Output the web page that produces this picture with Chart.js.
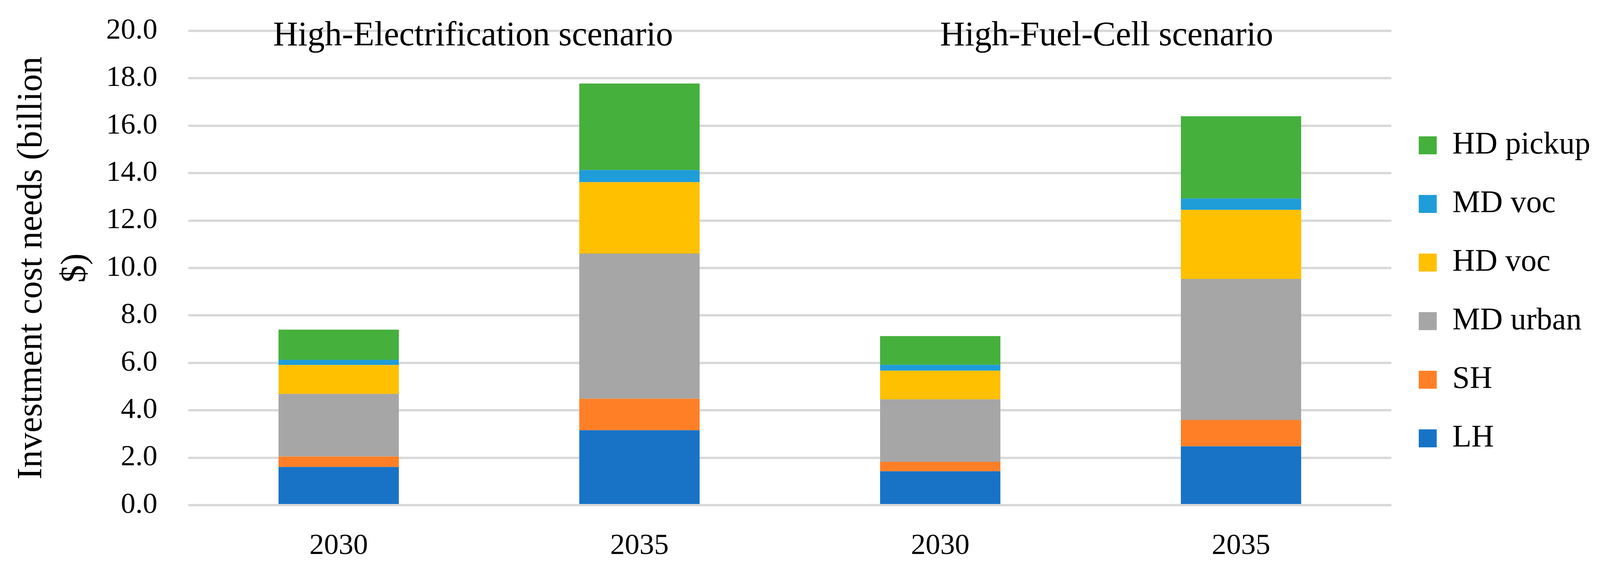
<!DOCTYPE html>
<html>
<head>
<meta charset="utf-8">
<script src="https://cdn.jsdelivr.net/npm/chart.js"></script>
<style>
  html, body { margin: 0; padding: 0; background: #fff; overflow: hidden; }
</style>
</head>
<body>
<canvas id="graph-canvas" width="4102" height="1459"></canvas>
<script>
// categories (two scenarios, two years each)
const years = ['2030', '2035', '2030', '2035'];
const scenarios = ['High-Electrification scenario', 'High-Fuel-Cell scenario'];

// stacked segments, bottom to top (billion $)
const lh = [1.61, 3.16, 1.43, 2.48];
const sh = [0.44, 1.33, 0.40, 1.11];
const mdUrban = [2.64, 6.12, 2.63, 5.95];
const hdVoc = [1.22, 3.01, 1.21, 2.91];
const mdVoc = [0.22, 0.51, 0.25, 0.48];
const hdPickup = [1.27, 3.65, 1.21, 3.47];

const yTicks = [0, 2, 4, 6, 8, 10, 12, 14, 16, 18, 20];

const FONT = '"Liberation Serif", "Times New Roman", serif';
Chart.defaults.font.family = FONT;
Chart.defaults.color = '#000';

function series(label, data, color) {
  return {
    label: label,
    data: data,
    backgroundColor: color,
    borderWidth: 0,
    barPercentage: 0.4,
    categoryPercentage: 1.0
  };
}

// scenario headings over the plot, centred at a share of the plot width
const scenarioTitles = {
  id: 'scenarioTitles',
  afterDraw(chart) {
    const {ctx, chartArea} = chart;
    const spots = [0.2367, 0.7633];
    ctx.save();
    ctx.font = '88px ' + FONT;
    ctx.fillStyle = '#000';
    ctx.textAlign = 'center';
    ctx.textBaseline = 'alphabetic';
    scenarios.forEach((t, i) => {
      const x = chartArea.left + spots[i] * (chartArea.right - chartArea.left);
      ctx.fillText(t, x, chartArea.top + 37);
    });
    ctx.restore();
  }
};

// fixed legend column width, and the legend block nudged up a little
const legendBox = {
  id: 'legendBox',
  afterInit(chart) {
    const lg = chart.legend;
    const fit = lg.fit;
    lg.fit = function () {
      fit.call(this);
      this.width = 540;
    };
  },
  afterLayout(chart) {
    chart.legend.top -= 44;
  }
};

new Chart(document.getElementById('graph-canvas'), {
  type: 'bar',
  data: {
    labels: years,
    datasets: [
      series('LH', lh, '#1873c7'),
      series('SH', sh, '#ff7f27'),
      series('MD urban', mdUrban, '#a6a6a6'),
      series('HD voc', hdVoc, '#ffc000'),
      series('MD voc', mdVoc, '#1f9dd9'),
      series('HD pickup', hdPickup, '#45b03c')
    ]
  },
  options: {
    responsive: false,
    devicePixelRatio: 1,
    animation: false,
    layout: { padding: { top: 79, bottom: 0, left: 0, right: 0 } },
    plugins: {
      tooltip: { enabled: false },
      legend: {
        position: 'right',
        reverse: true,
        labels: {
          boxWidth: 46,
          boxHeight: 46,
          padding: 70,
          font: { size: 80 },
          color: '#000'
        }
      }
    },
    scales: {
      x: {
        stacked: true,
        grid: { display: false },
        border: { display: false },
        ticks: { font: { size: 75 }, padding: 52, maxRotation: 0 },
        afterFit(scale) { scale.height = 166; }
      },
      y: {
        stacked: true,
        min: 0,
        max: 20,
        afterBuildTicks(scale) { scale.ticks = yTicks.map(v => ({ value: v })); },
        ticks: {
          font: { size: 75 },
          padding: 79,
          callback: v => Number(v).toFixed(1)
        },
        grid: { color: '#d9d9d9', lineWidth: 6, drawTicks: false },
        border: { display: false },
        title: {
          display: true,
          text: ['Investment cost needs (billion', '$)'],
          font: { size: 90, lineHeight: 1.244 },
          padding: { top: 26, bottom: 0 }
        },
        afterFit(scale) {
          scale.width = 482;
          // tick padding would otherwise push the plot top down
          scale.paddingTop = 0;
          scale.paddingBottom = 0;
        }
      }
    }
  },
  plugins: [scenarioTitles, legendBox]
});
</script>
</body>
</html>
